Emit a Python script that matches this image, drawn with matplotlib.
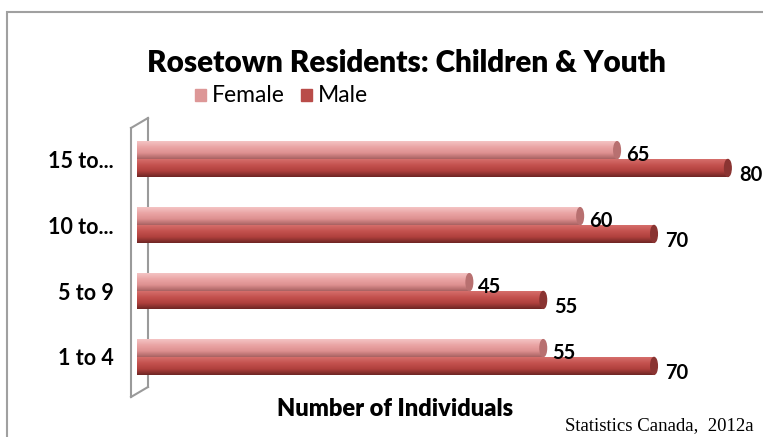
import numpy as np
import matplotlib
matplotlib.use("Agg")
import matplotlib.pyplot as plt
from matplotlib.colors import LinearSegmentedColormap
from matplotlib.patches import Ellipse, Rectangle
from matplotlib.lines import Line2D

# data
age_groups = ["1 to 4", "5 to 9", "10 to...", "15 to..."]
female = [55, 45, 60, 65]
male = [70, 55, 70, 80]

title = "Rosetown Residents: Children & Youth"
x_title = "Number of Individuals"
source = "Statistics Canada,  2012a"

female_cmap = LinearSegmentedColormap.from_list(
    "fem", ["#f4c4c4", "#eaa5a5", "#de9090", "#a86262"])
male_cmap = LinearSegmentedColormap.from_list(
    "mal", ["#d66e6b", "#c4524f", "#b0403d", "#6e2624"])

plt.rcParams['font.family'] = ['Lato', 'DejaVu Sans']

fig = plt.figure(figsize=(7.63, 4.37), dpi=100)
ax = fig.add_axes([0.1796, 0.0961, 0.8034, 0.629])

y = np.arange(len(age_groups))
h = 0.27
fem_bars = ax.barh(y + h / 2, female, height=h, color="#e49a9a")
mal_bars = ax.barh(y - h / 2, male, height=h, color="#c0504d")

# cylinder look: vertical gradient clipped to each bar + dark end cap
grad = np.linspace(0, 1, 64).reshape(-1, 1)
for bars, cmap, cap in [(fem_bars, female_cmap, "#b87070"), (mal_bars, male_cmap, "#8a3432")]:
    for rect in bars:
        x0, y0 = rect.get_x(), rect.get_y()
        w, hh = rect.get_width(), rect.get_height()
        im = ax.imshow(grad, cmap=cmap, aspect="auto", origin="upper",
                       extent=(x0, x0 + w, y0, y0 + hh), zorder=2)
        im.set_clip_path(rect)
        rect.set_alpha(0)
        ax.add_patch(Ellipse((x0 + w, y0 + hh / 2), 0.9, hh * 0.95,
                             color=cap, zorder=3))

# value labels
for i in range(len(age_groups)):
    ax.text(female[i] + 1.2, y[i] + h / 2 - 0.07, str(female[i]),
            fontsize=14.5, fontweight="bold", va="center", ha="left")
    ax.text(male[i] + 1.5, y[i] - h / 2 - 0.1, str(male[i]),
            fontsize=14.5, fontweight="bold", va="center", ha="left")

ax.set_xlim(0, 83)
ax.set_ylim(-0.576, 3.59)
ax.set_xticks([])
ax.set_yticks(y)
ax.set_yticklabels(age_groups, fontsize=15.5, fontweight="bold")
ax.tick_params(axis="y", length=0, pad=17)
for s in ax.spines.values():
    s.set_visible(False)

# 3d wall outline (figure pixels -> fraction)
W, H = 763.0, 437.0
def fx(px):
    return px / W
def fy(py):
    return 1 - py / H
wall = "#9a9a9a"
fig.add_artist(Line2D([fx(131), fx(131)], [fy(128), fy(397)], color=wall, lw=1.5, zorder=0))
fig.add_artist(Line2D([fx(131), fx(148)], [fy(128), fy(118)], color=wall, lw=1.5, zorder=0))
fig.add_artist(Line2D([fx(148), fx(148)], [fy(118), fy(387)], color=wall, lw=1.5, zorder=0))
fig.add_artist(Line2D([fx(131), fx(148)], [fy(397), fy(387)], color=wall, lw=1.5, zorder=0))
ax.set_zorder(2)
ax.patch.set_alpha(0)

# chart border
fig.add_artist(Rectangle((fx(7), -0.05), 1.1, fy(12) + 0.05, fill=False,
                         edgecolor="#a0a0a0", lw=1.5, transform=fig.transFigure))

fig.text(fx(406), fy(63), title, fontsize=21.3, fontweight="heavy", ha="center", va="center")

# legend
fig.add_artist(Rectangle((fx(195), fy(101)), 11 / W, 12 / H, color="#dd9797",
                         transform=fig.transFigure))
fig.text(fx(212), fy(96), "Female", fontsize=16.5, va="center")
fig.add_artist(Rectangle((fx(301), fy(101)), 11 / W, 12 / H, color="#b94c49",
                         transform=fig.transFigure))
fig.text(fx(318), fy(96), "Male", fontsize=16.5, va="center")

fig.text(fx(395), fy(409), x_title, fontsize=17, fontweight="heavy", ha="center", va="center")
fig.text(fx(565), fy(426), source, fontsize=13.5, family="Liberation Serif", ha="left", va="center")

fig.savefig("out.png", dpi=100)
